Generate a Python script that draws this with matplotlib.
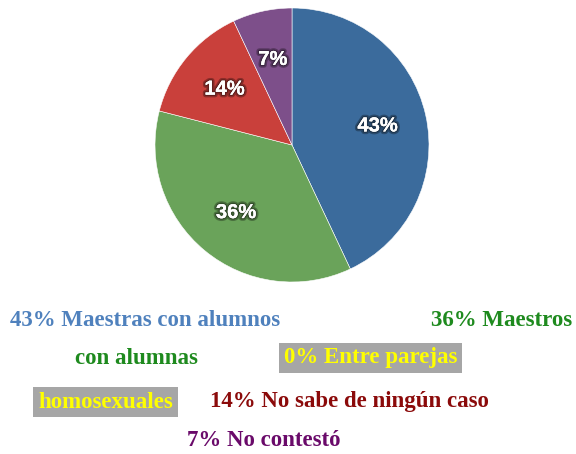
import matplotlib.pyplot as plt
import matplotlib.patheffects as pe

# Slice data
shares = [43, 36, 14, 7]
slice_colors = ["#3b6b9c", "#6aa35a", "#c9403b", "#7d4f8a"]

# Legend-like text lines (text, color, x_px, y_px, ha, highlight)
legend_items = [
    ("43% Maestras con alumnos", "#4f81bd", 10, 320, "left", False),
    ("36% Maestros", "#1e8a1e", 572, 320, "right", False),
    ("con alumnas", "#1e8a1e", 75, 358, "left", False),
    ("0% Entre parejas", "#ffff00", 284, 358, "left", True),
    ("homosexuales", "#ffff00", 38, 402, "left", True),
    ("14% No sabe de ningún caso", "#8b0a0a", 210, 402, "left", False),
    ("7% No contestó", "#6a0a6a", 187, 441, "left", False),
]

W, H = 576, 454
fig = plt.figure(figsize=(W / 100, H / 100), dpi=100)

# pie centre (292,145) radius ~137 px
cx, cy, r = 292, 145, 137
ax = fig.add_axes([(cx - r) / W, (H - cy - r) / H, 2 * r / W, 2 * r / H])
wedges, _, autotexts = ax.pie(
    shares,
    colors=slice_colors,
    startangle=90,
    counterclock=False,
    autopct="%d%%",
    pctdistance=0.64,
    wedgeprops=dict(edgecolor="white", linewidth=0.4),
    textprops=dict(color="white", fontsize=14.5, fontweight="bold",
                   family="Liberation Sans"),
)
for t in autotexts:
    t.set_path_effects([pe.withStroke(linewidth=4, foreground=(0, 0, 0, 0.3)),
                        pe.withStroke(linewidth=2, foreground=(0, 0, 0, 0.3)),
                        pe.Normal()])
ax.set_xlim(-1, 1)
ax.set_ylim(-1, 1)
ax.set_aspect("equal")
ax.axis("off")

for text, color, x, y, ha, hl in legend_items:
    kw = {}
    if hl:
        kw["bbox"] = dict(facecolor="#a6a6a6", edgecolor="none", pad=3.5)
    fig.text(x / W, 1 - y / H, text, color=color, ha=ha, va="center",
             fontsize=16.5, fontweight="bold", family="Liberation Serif", **kw)

fig.savefig("out.png", dpi=100)
